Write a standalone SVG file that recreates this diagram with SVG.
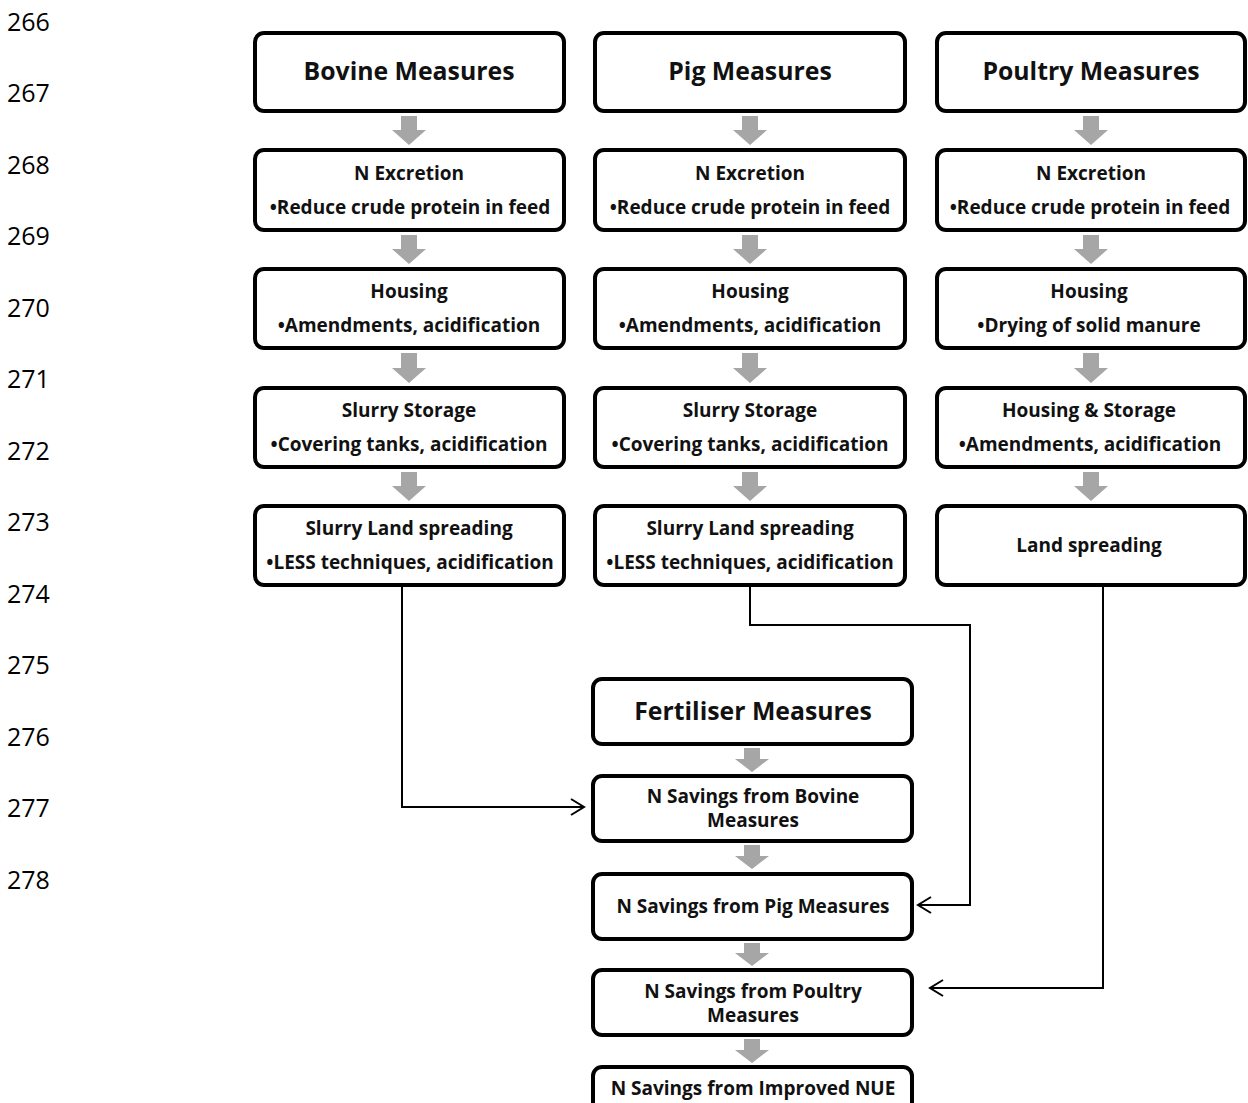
<svg xmlns="http://www.w3.org/2000/svg" width="1248" height="1103" viewBox="0 0 1248 1103">
<style>
.box{fill:#fff;stroke:#000;stroke-width:4}
.ga{fill:#a6a6a6}
.t{font-family:"Open Sans","Liberation Sans",sans-serif;font-weight:bold;text-anchor:middle;fill:#111}
.h{font-size:24.8px}
.s{font-size:19px}
.ln{font-family:"Open Sans","Liberation Sans",sans-serif;font-size:25px;fill:#000}
.c{fill:none;stroke:#000;stroke-width:2}
</style>
<defs>
<marker id="oa" markerWidth="18" markerHeight="18" refX="14" refY="9" orient="auto" markerUnits="userSpaceOnUse">
<polyline points="1,1 14,9 1,17" fill="none" stroke="#000" stroke-width="2"/>
</marker>
</defs>
<rect width="1248" height="1103" fill="#fff"/>
<g id="line-numbers">
<text class="ln" x="7" y="31">266</text>
<text class="ln" x="7" y="102">267</text>
<text class="ln" x="7" y="174">268</text>
<text class="ln" x="7" y="245">269</text>
<text class="ln" x="7" y="317">270</text>
<text class="ln" x="7" y="388">271</text>
<text class="ln" x="7" y="460">272</text>
<text class="ln" x="7" y="531">273</text>
<text class="ln" x="7" y="603">274</text>
<text class="ln" x="7" y="674">275</text>
<text class="ln" x="7" y="746">276</text>
<text class="ln" x="7" y="817">277</text>
<text class="ln" x="7" y="889">278</text>
</g>
<g id="flow-arrows">
<polygon class="ga" points="401,116 417,116 417,130 426,130 409,145 392,130 401,130"/>
<polygon class="ga" points="401,235 417,235 417,249 426,249 409,264 392,249 401,249"/>
<polygon class="ga" points="401,353 417,353 417,368 426,368 409,383 392,368 401,368"/>
<polygon class="ga" points="401,472 417,472 417,486 426,486 409,501 392,486 401,486"/>
<polygon class="ga" points="742,116 758,116 758,130 767,130 750,145 733,130 742,130"/>
<polygon class="ga" points="742,235 758,235 758,249 767,249 750,264 733,249 742,249"/>
<polygon class="ga" points="742,353 758,353 758,368 767,368 750,383 733,368 742,368"/>
<polygon class="ga" points="742,472 758,472 758,486 767,486 750,501 733,486 742,486"/>
<polygon class="ga" points="1083,116 1099,116 1099,130 1108,130 1091,145 1074,130 1083,130"/>
<polygon class="ga" points="1083,235 1099,235 1099,249 1108,249 1091,264 1074,249 1083,249"/>
<polygon class="ga" points="1083,353 1099,353 1099,368 1108,368 1091,383 1074,368 1083,368"/>
<polygon class="ga" points="1083,472 1099,472 1099,486 1108,486 1091,501 1074,486 1083,486"/>
<polygon class="ga" points="744,748 760,748 760,759 769,759 752,772 735,759 744,759"/>
<polygon class="ga" points="744,845 760,845 760,856 769,856 752,869 735,856 744,856"/>
<polygon class="ga" points="744,943 760,943 760,953 769,953 752,966 735,953 744,953"/>
<polygon class="ga" points="744,1039 760,1039 760,1050 769,1050 752,1063 735,1050 744,1050"/>
</g>
<g id="connectors">
<polyline class="c" points="402,587 402,807 584,807" marker-end="url(#oa)"/>
<polyline class="c" points="750,587 750,625 970,625 970,905 918,905" marker-end="url(#oa)"/>
<polyline class="c" points="1103,587 1103,988 930,988" marker-end="url(#oa)"/>
</g>
<g id="bovine-measures"><rect class="box" x="255" y="33" width="309" height="78" rx="9"/><text class="t h" x="409" y="80">Bovine Measures</text></g>
<g id="pig-measures"><rect class="box" x="595" y="33" width="310" height="78" rx="9"/><text class="t h" x="750" y="80">Pig Measures</text></g>
<g id="poultry-measures"><rect class="box" x="937" y="33" width="308" height="78" rx="9"/><text class="t h" x="1091" y="80">Poultry Measures</text></g>
<g id="bovine-n-excretion"><rect class="box" x="255" y="150" width="309" height="80" rx="9"/><text class="t s" x="409" y="180">N Excretion</text><text class="t s" x="410" y="214">•Reduce crude protein in feed</text></g>
<g id="pig-n-excretion"><rect class="box" x="595" y="150" width="310" height="80" rx="9"/><text class="t s" x="750" y="180">N Excretion</text><text class="t s" x="750" y="214">•Reduce crude protein in feed</text></g>
<g id="poultry-n-excretion"><rect class="box" x="937" y="150" width="308" height="80" rx="9"/><text class="t s" x="1091" y="180">N Excretion</text><text class="t s" x="1090" y="214">•Reduce crude protein in feed</text></g>
<g id="bovine-housing"><rect class="box" x="255" y="269" width="309" height="79" rx="9"/><text class="t s" x="409" y="298">Housing</text><text class="t s" x="409" y="332">•Amendments, acidification</text></g>
<g id="pig-housing"><rect class="box" x="595" y="269" width="310" height="79" rx="9"/><text class="t s" x="750" y="298">Housing</text><text class="t s" x="750" y="332">•Amendments, acidification</text></g>
<g id="poultry-housing"><rect class="box" x="937" y="269" width="308" height="79" rx="9"/><text class="t s" x="1089" y="298">Housing</text><text class="t s" x="1089" y="332">•Drying of solid manure</text></g>
<g id="bovine-slurry-storage"><rect class="box" x="255" y="388" width="309" height="79" rx="9"/><text class="t s" x="409" y="417">Slurry Storage</text><text class="t s" x="409" y="451">•Covering tanks, acidification</text></g>
<g id="pig-slurry-storage"><rect class="box" x="595" y="388" width="310" height="79" rx="9"/><text class="t s" x="750" y="417">Slurry Storage</text><text class="t s" x="750" y="451">•Covering tanks, acidification</text></g>
<g id="poultry-housing-storage"><rect class="box" x="937" y="388" width="308" height="79" rx="9"/><text class="t s" x="1089" y="417">Housing &amp; Storage</text><text class="t s" x="1090" y="451">•Amendments, acidification</text></g>
<g id="bovine-land-spreading"><rect class="box" x="255" y="506" width="309" height="79" rx="9"/><text class="t s" x="409" y="535">Slurry Land spreading</text><text class="t s" x="410" y="569">•LESS techniques, acidification</text></g>
<g id="pig-land-spreading"><rect class="box" x="595" y="506" width="310" height="79" rx="9"/><text class="t s" x="750" y="535">Slurry Land spreading</text><text class="t s" x="750" y="569">•LESS techniques, acidification</text></g>
<g id="poultry-land-spreading"><rect class="box" x="937" y="506" width="308" height="79" rx="9"/><text class="t s" x="1089" y="552">Land spreading</text></g>
<g id="fertiliser-measures"><rect class="box" x="593" y="679" width="319" height="65" rx="9"/><text class="t h" x="753" y="720">Fertiliser Measures</text></g>
<g id="n-savings-bovine"><rect class="box" x="593" y="776" width="319" height="65" rx="9"/><text class="t s" x="753" y="803">N Savings from Bovine</text><text class="t s" x="753" y="827">Measures</text></g>
<g id="n-savings-pig"><rect class="box" x="593" y="874" width="319" height="65" rx="9"/><text class="t s" x="753" y="913">N Savings from Pig Measures</text></g>
<g id="n-savings-poultry"><rect class="box" x="593" y="970" width="319" height="65" rx="9"/><text class="t s" x="753" y="998">N Savings from Poultry</text><text class="t s" x="753" y="1022">Measures</text></g>
<g id="n-savings-nue"><rect class="box" x="593" y="1067" width="319" height="65" rx="9"/><text class="t s" x="753" y="1095">N Savings from Improved NUE</text></g>
</svg>
